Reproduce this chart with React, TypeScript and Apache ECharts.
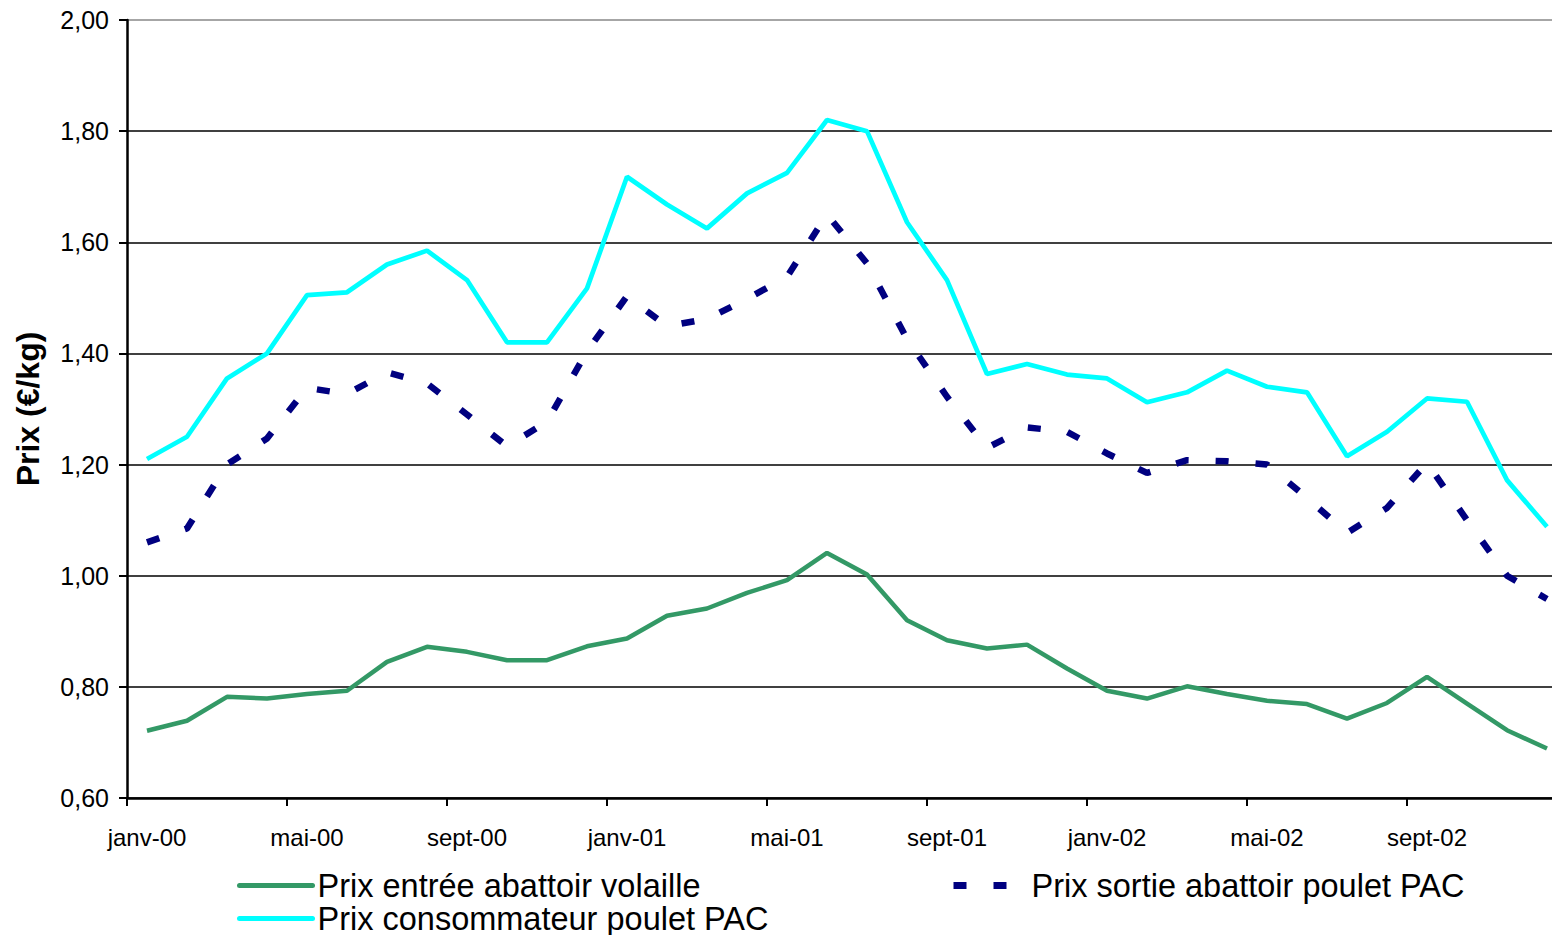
import React, { useEffect, useRef } from "react";
import * as echarts from "echarts";

const months = ["janv", "févr", "mars", "avr", "mai", "juin", "juil", "août", "sept", "oct", "nov", "déc"];
const years = ["00", "01", "02"];
const categories: string[] = [];
years.forEach((y) => months.forEach((m) => categories.push(`${m}-${y}`)));

const entreeAbattoir = [
  0.721, 0.739, 0.782, 0.779, 0.787, 0.793, 0.845, 0.872, 0.863, 0.848, 0.848, 0.873,
  0.887, 0.928, 0.941, 0.969, 0.992, 1.041, 1.002, 0.92, 0.884, 0.869, 0.876, 0.833,
  0.793, 0.779, 0.801, 0.787, 0.775, 0.769, 0.743, 0.771, 0.818, 0.77, 0.722, 0.689,
];

const sortieAbattoir = [
  1.06, 1.085, 1.2, 1.247, 1.338, 1.327, 1.366, 1.346, 1.29, 1.233, 1.277, 1.404,
  1.503, 1.449, 1.462, 1.498, 1.538, 1.65, 1.562, 1.426, 1.322, 1.23, 1.267, 1.259,
  1.22, 1.185, 1.208, 1.206, 1.2, 1.14, 1.077, 1.122, 1.203, 1.1, 1.0, 0.958,
];

const consommateur = [
  1.21, 1.25, 1.355, 1.4, 1.505, 1.51, 1.56, 1.585, 1.532, 1.42, 1.42, 1.517,
  1.718, 1.668, 1.625, 1.688, 1.725, 1.82, 1.8, 1.636, 1.532, 1.363, 1.381, 1.362,
  1.355, 1.312, 1.33, 1.369, 1.34, 1.33, 1.215, 1.259, 1.319, 1.313, 1.172, 1.088,
];

const seriesNames = [
  "Prix entrée abattoir volaille",
  "Prix sortie abattoir poulet PAC",
  "Prix consommateur poulet PAC",
];

const yTitle = "Prix (€/kg)";
const FONT = "'Liberation Sans', Arial, Helvetica, sans-serif";

const GREEN = "#339966";
const NAVY = "#000080";
const CYAN = "#00FFFF";
const DASH = [13, 27];

export default function App() {
  const ref = useRef<HTMLDivElement>(null);

  useEffect(() => {
    document.body.style.margin = "0";
    if (!ref.current) return;
    const chart = echarts.init(ref.current, undefined, { renderer: "svg" });

    const legendCommon = {
      orient: "horizontal",
      padding: 0,
      itemWidth: 73,
      itemHeight: 14,
      selectedMode: false,
      itemStyle: { opacity: 0, borderWidth: 0 },
      textStyle: { fontSize: 32.5, lineHeight: 31, color: "#000", fontFamily: FONT },
    };

    chart.setOption({
      animation: false,
      backgroundColor: "#fff",
      textStyle: { fontFamily: FONT },
      grid: { left: 127, top: 20, width: 1440, height: 778, containLabel: false },
      xAxis: {
        type: "category",
        data: categories,
        boundaryGap: true,
        axisLine: { show: true, lineStyle: { color: "#000", width: 2.5 } },
        axisTick: { show: true, interval: 3, length: 8, inside: false, lineStyle: { color: "#000", width: 2 } },
        axisLabel: { interval: 3, color: "#000", fontSize: 24, fontFamily: FONT, margin: 27 },
        splitLine: { show: false },
      },
      yAxis: {
        type: "value",
        min: 0.6,
        max: 2.0,
        interval: 0.2,
        axisLine: { show: true, lineStyle: { color: "#000", width: 2.5 } },
        axisTick: { show: true, length: 8, lineStyle: { color: "#000", width: 2 } },
        axisLabel: {
          color: "#000",
          fontSize: 25,
          fontFamily: FONT,
          margin: 18,
          formatter: (v: number) => v.toFixed(2).replace(".", ","),
        },
        splitLine: {
          show: true,
          lineStyle: {
            color: ["#000", "#000", "#000", "#000", "#000", "#000", "#000", "#888"],
            width: 1.6,
          },
        },
      },
      legend: [
        {
          ...legendCommon,
          data: [seriesNames[0]],
          left: 237,
          top: 869,
          lineStyle: { color: GREEN, width: 5, type: "solid", cap: "round" },
        },
        {
          ...legendCommon,
          data: [seriesNames[1]],
          left: 950,
          top: 869,
          lineStyle: { color: NAVY, width: 7, type: DASH, cap: "butt" },
        },
        {
          ...legendCommon,
          data: [seriesNames[2]],
          left: 237,
          top: 902,
          lineStyle: { color: CYAN, width: 5, type: "solid", cap: "round" },
        },
      ],
      graphic: [
        {
          type: "text",
          x: 28,
          y: 409,
          rotation: Math.PI / 2,
          style: {
            text: yTitle,
            font: `bold 32px ${FONT}`,
            fill: "#000",
            textAlign: "center",
            textVerticalAlign: "middle",
          },
        },
      ],
      series: [
        {
          name: seriesNames[0],
          type: "line",
          data: entreeAbattoir,
          symbol: "none",
          lineStyle: { color: GREEN, width: 4.5 },
          itemStyle: { color: GREEN },
          z: 3,
        },
        {
          name: seriesNames[1],
          type: "line",
          data: sortieAbattoir,
          symbol: "none",
          lineStyle: { color: NAVY, width: 6.5, type: DASH, cap: "butt" },
          itemStyle: { color: NAVY },
          z: 4,
        },
        {
          name: seriesNames[2],
          type: "line",
          data: consommateur,
          symbol: "none",
          lineStyle: { color: CYAN, width: 4.7 },
          itemStyle: { color: CYAN },
          z: 3,
        },
      ],
    });

    return () => chart.dispose();
  }, []);

  return (
    <div style={{ position: "fixed", left: 0, top: 0, width: 1552, height: 935, overflow: "hidden", background: "#fff" }}>
      <div ref={ref} style={{ width: 1575, height: 935 }} />
    </div>
  );
}
